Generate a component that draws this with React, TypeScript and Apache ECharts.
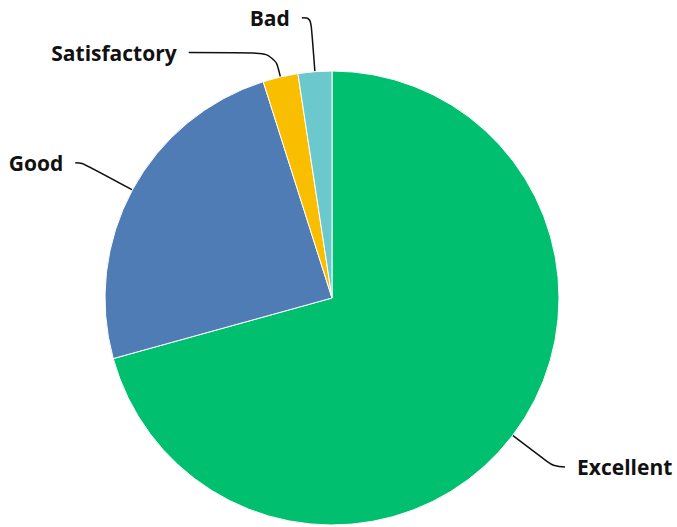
import React, { useEffect, useRef } from "react";
import * as echarts from "echarts";

const categories = ["Excellent", "Good", "Satisfactory", "Bad"];
const values = [70.7, 24.4, 2.5, 2.4];
const colors = ["#00BF6F", "#507CB6", "#F9BE00", "#6BC8CD"];
const lineLengths = [
  [52, 11],
  [57, 7],
  [25, 86],
  [54, 9],
];

export default function App() {
  const ref = useRef<HTMLDivElement>(null);
  useEffect(() => {
    document.body.style.margin = "0";
    const chart = echarts.init(ref.current!, undefined, { renderer: "svg" });
    chart.setOption({
      animation: false,
      backgroundColor: "#ffffff",
      series: [
        {
          type: "pie",
          center: [332, 298],
          radius: 227,
          startAngle: 90,
          clockwise: true,
          avoidLabelOverlap: false,
          itemStyle: { borderColor: "#ffffff", borderWidth: 1 },
          label: {
            show: true,
            position: "outside",
            formatter: "{b}",
            fontFamily: "Open Sans",
            fontWeight: "bold",
            fontSize: 21,
            color: "#111111",
            distanceToLabelLine: 12,
          },
          labelLine: {
            show: true,
            smooth: 0.4,
            lineStyle: { color: "#111111", width: 1.5 },
          },
          data: categories.map((name, i) => ({
            name,
            value: values[i],
            itemStyle: { color: colors[i] },
            labelLine: { length: lineLengths[i][0], length2: lineLengths[i][1] },
          })),
        },
      ],
    });
    return () => chart.dispose();
  }, []);
  return <div ref={ref} style={{ width: 677, height: 527 }} />;
}
